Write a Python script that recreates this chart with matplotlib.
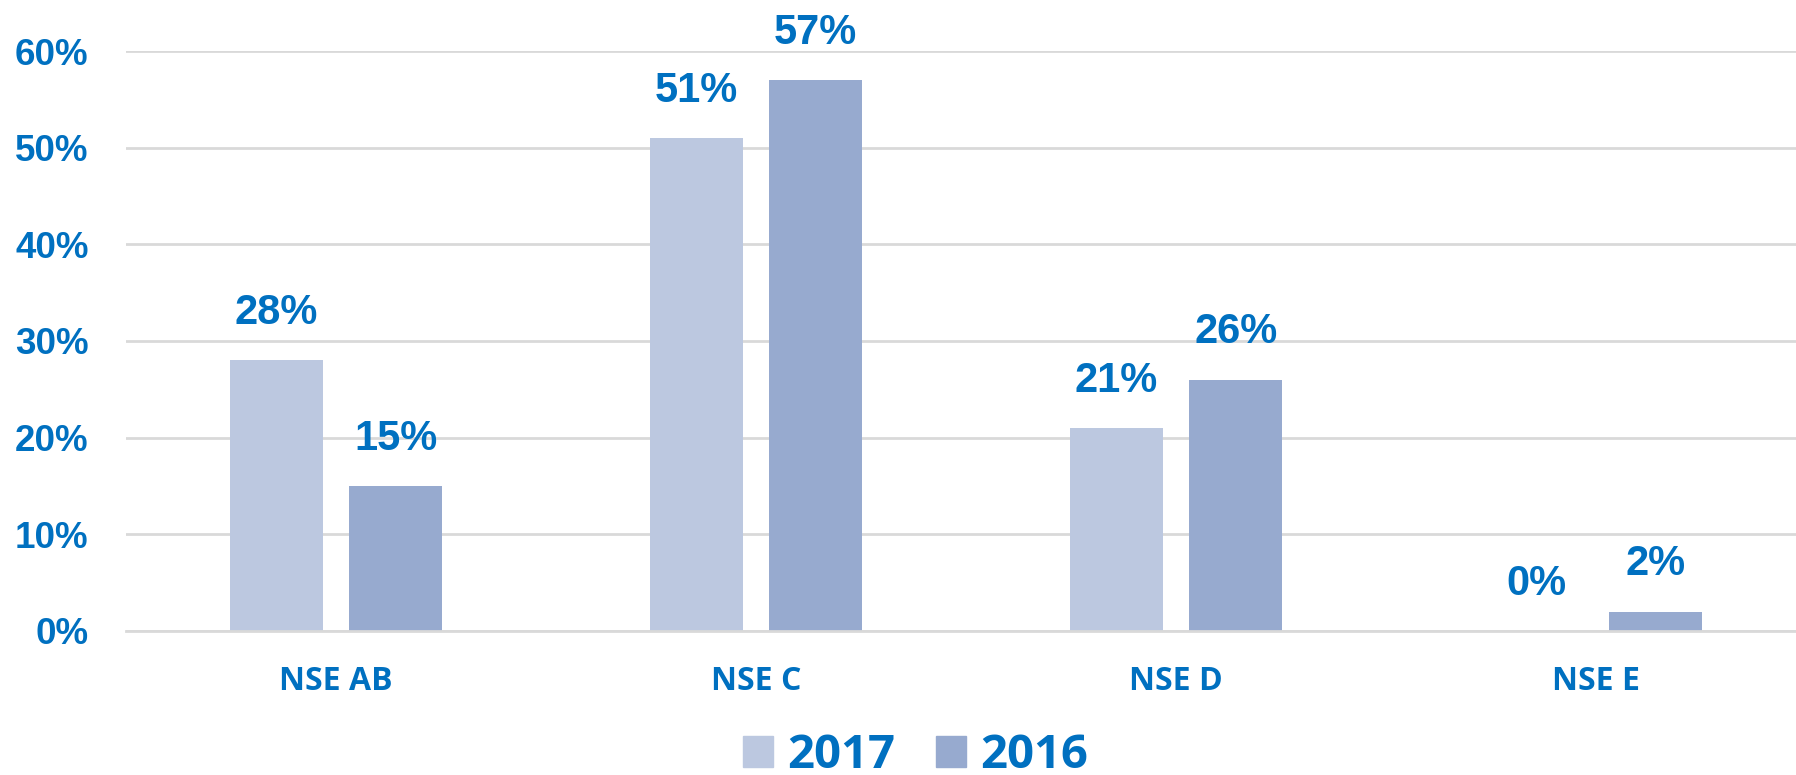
import numpy as np
import matplotlib
matplotlib.use("Agg")
import matplotlib.pyplot as plt
from matplotlib.patches import Patch

# NSE distribution, 2017 vs 2016
categorias = ["NSE AB", "NSE C", "NSE D", "NSE E"]
anos = ["2017", "2016"]
valores_2017 = [28, 51, 21, 0]
valores_2016 = [15, 57, 26, 2]

cor_2017 = "#BCC8E0"
cor_2016 = "#97AACF"
azul = "#0070C0"
cinza = "#D9D9D9"

fig = plt.figure(figsize=(17.96, 7.75), dpi=100)
ax = fig.add_axes([0.0702, 0.186, 0.9354, 0.748])

x = np.arange(len(categorias))
largura = 0.222
desloc = 0.142

b1 = ax.bar(x - desloc, valores_2017, largura, color=cor_2017, zorder=3)
b2 = ax.bar(x + desloc, valores_2016, largura, color=cor_2016, zorder=3)

for barras, vals in [(b1, valores_2017), (b2, valores_2016)]:
    for b, v in zip(barras, vals):
        ax.annotate(f"{v}%", (b.get_x() + b.get_width() / 2, v),
                    xytext=(0, 34), textcoords="offset points",
                    ha="center", va="center", fontsize=30,
                    fontweight="bold", family="Liberation Sans", color=azul)

ax.set_xlim(-0.5, len(categorias) - 0.5)
ax.set_ylim(0, 60)
ax.set_yticks(range(0, 61, 10))
ax.set_yticklabels([f"{t}%" for t in range(0, 61, 10)])
ax.set_xticks(x)
ax.set_xticklabels(categorias)

for lab in ax.get_yticklabels():
    lab.set_fontsize(26.5)
    lab.set_fontweight("bold")
    lab.set_family("Liberation Sans")
    lab.set_color(azul)
for lab in ax.get_xticklabels():
    lab.set_fontsize(23)
    lab.set_fontweight("bold")
    lab.set_family("Open Sans")
    lab.set_color(azul)

ax.tick_params(axis="y", length=0, pad=27)
ax.tick_params(axis="x", length=0, pad=24.5)
ax.yaxis.grid(True, color=cinza, linewidth=2, zorder=0)
for s in ["top", "right", "left"]:
    ax.spines[s].set_visible(False)
ax.spines["bottom"].set_color(cinza)
ax.spines["bottom"].set_linewidth(2)
ax.spines["bottom"].set_zorder(4)

handles = [Patch(color=cor_2017), Patch(color=cor_2016)]
leg = fig.legend(handles, anos, loc="center", bbox_to_anchor=(0.5097, 1 - 756 / 775),
                 ncol=2, frameon=False, handlelength=0.635, handleheight=0.635,
                 handletextpad=0.3, columnspacing=0.87, borderpad=0, borderaxespad=0,
                 prop={"family": "Open Sans", "weight": "bold", "size": 34})
for t in leg.get_texts():
    t.set_color(azul)

fig.savefig("out.png", dpi=100)
